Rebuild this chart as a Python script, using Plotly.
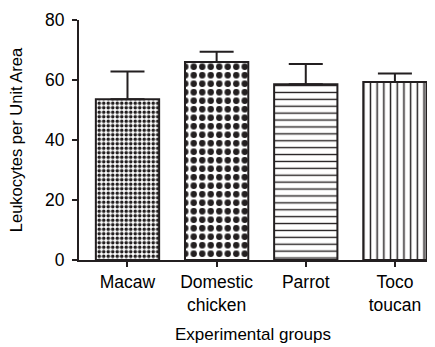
import plotly.graph_objects as go

categories = ["Macaw", "Domestic<br>chicken", "Parrot", "Toco<br>toucan"]
means = [53.6, 66.0, 58.6, 59.3]
errors_up = [9.2, 3.4, 6.7, 2.9]
pattern_shapes = [".", ".", "-", "|"]
pattern_sizes = [4.5, 8.5, 6.9, 6.7]
pattern_solidity = [0.5, 0.45, 0.2, 0.22]

dark = "#231f20"
font_family = "Liberation Sans, Arial, sans-serif"

fig = go.Figure()
for i, cat in enumerate(categories):
    fig.add_trace(go.Bar(
        x=[cat], y=[means[i]],
        width=0.71,
        marker=dict(
            color="white",
            line=dict(color=dark, width=2),
            pattern=dict(shape=pattern_shapes[i], size=pattern_sizes[i],
                         solidity=pattern_solidity[i], fgcolor=dark,
                         bgcolor="white", fillmode="replace"),
        ),
        error_y=dict(type="data", symmetric=False, array=[errors_up[i]],
                     arrayminus=[0], color=dark, thickness=2, width=17),
        showlegend=False,
    ))

fig.update_layout(
    width=435, height=347,
    margin=dict(l=79, r=8, t=20, b=87),
    plot_bgcolor="white", paper_bgcolor="white",
    font=dict(family=font_family, size=17, color="black"),
    barmode="overlay",
    xaxis=dict(
        type="category", categoryorder="array", categoryarray=categories,
        range=[-0.544, 3.36], automargin=False,
        showline=True, linecolor=dark, linewidth=2,
        ticks="outside", ticklen=5, tickwidth=2, tickcolor=dark,
        showgrid=False, zeroline=False,
        tickfont=dict(size=17.5),
        title=dict(text="Experimental groups", font=dict(size=17), standoff=14),
    ),
    yaxis=dict(
        range=[0, 80], tickvals=[0, 20, 40, 60, 80], automargin=False,
        showline=True, linecolor=dark, linewidth=2,
        ticks="outside", ticklen=5, tickwidth=2, tickcolor=dark,
        ticklabelstandoff=4,
        showgrid=False, zeroline=False,
        tickfont=dict(size=17.5),
        title=dict(text="Leukocytes per Unit Area", font=dict(size=16.5), standoff=18),
    ),
)

fig.write_html("out.html")
